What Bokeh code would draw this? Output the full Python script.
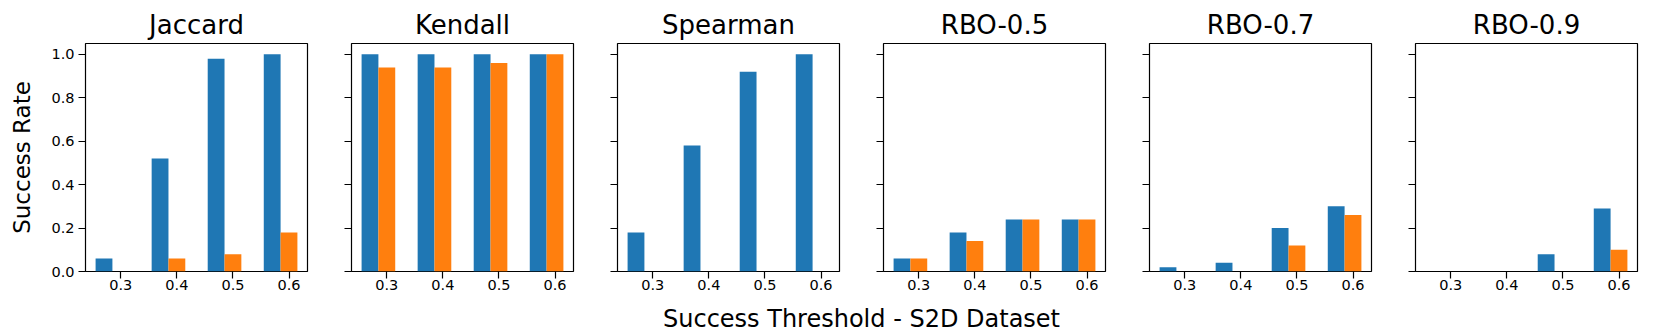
import numpy as np
from bokeh.plotting import figure
from bokeh.layouts import row, column
from bokeh.models import Range1d, FixedTicker, PrintfTickFormatter
from bokeh.core.properties import value
from bokeh.embed import file_html
from bokeh.resources import INLINE

# ---------------- data ----------------
thresholds = ["0.3", "0.4", "0.5", "0.6"]
metrics = ["Jaccard", "Kendall", "Spearman", "RBO-0.5", "RBO-0.7", "RBO-0.9"]

jaccard_blue = [0.06, 0.52, 0.98, 1.00]
jaccard_orange = [0.00, 0.06, 0.08, 0.18]
kendall_blue = [1.00, 1.00, 1.00, 1.00]
kendall_orange = [0.94, 0.94, 0.96, 1.00]
spearman_blue = [0.18, 0.58, 0.92, 1.00]
spearman_orange = [0.00, 0.00, 0.00, 0.00]
rbo05_blue = [0.06, 0.18, 0.24, 0.24]
rbo05_orange = [0.06, 0.14, 0.24, 0.24]
rbo07_blue = [0.02, 0.04, 0.20, 0.30]
rbo07_orange = [0.00, 0.00, 0.12, 0.26]
rbo09_blue = [0.00, 0.00, 0.08, 0.29]
rbo09_orange = [0.00, 0.00, 0.00, 0.10]

y_ticks = [0.0, 0.2, 0.4, 0.6, 0.8, 1.0]
x_label = "Success Threshold - S2D Dataset"
y_label = "Success Rate"

series_blue = [jaccard_blue, kendall_blue, spearman_blue, rbo05_blue, rbo07_blue, rbo09_blue]
series_orange = [jaccard_orange, kendall_orange, spearman_orange, rbo05_orange, rbo07_orange, rbo09_orange]

# ---------------- style ----------------
FONT = "DejaVu Sans"
BLUE = "#1f77b4"
ORANGE = "#ff7f0e"
BAR_W = 0.3
FRAME_W = 222
FRAME_H = 228
TOP = 43
BOTTOM = 25
FIG_H = TOP + FRAME_H + BOTTOM
LAB_H = 333 - FIG_H

x = np.arange(len(thresholds))

panels = []
for i, name in enumerate(metrics):
    left = 85 if i == 0 else 22
    right = 24 if i == len(metrics) - 1 else 22
    w = left + FRAME_W + right
    p = figure(width=w, height=FIG_H,
               x_range=Range1d(-0.63, 3.33), y_range=Range1d(0, 1.05),
               output_backend="svg", toolbar_location=None, tools="",
               min_border_left=left, min_border_right=right,
               min_border_top=TOP, min_border_bottom=BOTTOM,
               title=name)
    p.title.text_font = FONT
    p.title.text_font_size = "26px"
    p.title.text_font_style = "normal"
    p.title.text_color = "black"
    p.title.align = "center"
    p.title.standoff = 8

    p.vbar(x=x - BAR_W, top=series_blue[i], width=BAR_W, fill_color=BLUE, line_color=None)
    p.vbar(x=x, top=series_orange[i], width=BAR_W, fill_color=ORANGE, line_color=None)

    p.xgrid.grid_line_color = None
    p.ygrid.grid_line_color = None
    p.outline_line_color = "black"
    p.outline_line_width = 1.2
    p.background_fill_color = "white"
    p.border_fill_color = "white"

    p.xaxis.ticker = FixedTicker(ticks=[float(v) for v in x])
    p.xaxis.major_label_overrides = {float(v): t for v, t in zip(x, thresholds)}
    p.yaxis.ticker = FixedTicker(ticks=y_ticks)
    p.yaxis.formatter = PrintfTickFormatter(format="%.1f")

    for ax in (p.xaxis[0], p.yaxis[0]):
        ax.axis_line_color = None
        ax.major_tick_out = 7
        ax.major_tick_in = 0
        ax.minor_tick_out = 0
        ax.minor_tick_in = 0
        ax.major_tick_line_color = "black"
        ax.major_tick_line_width = 1.2
        ax.major_label_text_font = FONT
        ax.major_label_text_font_size = "14.5px"
        ax.major_label_text_color = "black"
    p.xaxis.major_label_standoff = 1
    p.yaxis.major_label_standoff = 4

    if i == 0:
        p.yaxis.axis_label = y_label
        p.yaxis.axis_label_text_font = FONT
        p.yaxis.axis_label_text_font_size = "23px"
        p.yaxis.axis_label_text_font_style = "normal"
        p.yaxis.axis_label_text_color = "black"
        p.yaxis.axis_label_standoff = 13
    else:
        p.yaxis.major_label_overrides = {t: "" for t in y_ticks}
    panels.append(p)

total_w = sum(pp.width for pp in panels)
lab = figure(width=total_w, height=LAB_H, x_range=Range1d(0, total_w), y_range=Range1d(0, LAB_H),
             output_backend="svg", toolbar_location=None, tools="",
             x_axis_type=None, y_axis_type=None, min_border=0)
lab.outline_line_color = None
lab.xgrid.grid_line_color = None
lab.ygrid.grid_line_color = None
# centred in the gap between the 3rd and the 4th panel
cx = panels[0].width + panels[1].width + panels[2].width
lab.text(x=[cx], y=[15], text=[x_label], text_align="center", text_baseline="alphabetic",
         text_font=value(FONT), text_font_size="24px", text_color="black")

layout = column(row(*panels, spacing=0), lab, spacing=0)
open("out.html", "w").write(file_html(layout, INLINE))
